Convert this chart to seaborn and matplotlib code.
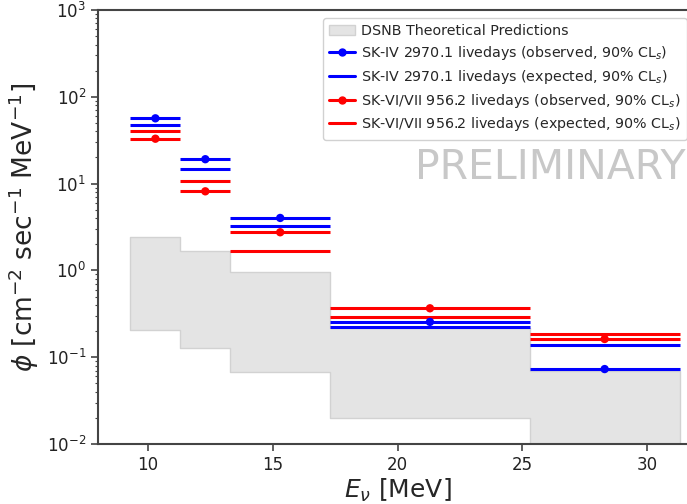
import numpy as np
import pandas as pd
import matplotlib
matplotlib.use("Agg")
import matplotlib.pyplot as plt
from matplotlib.lines import Line2D
from matplotlib.patches import Patch
import seaborn as sns

# Energy bin edges [MeV]
bin_edges = [9.3, 11.3, 13.3, 17.3, 25.3, 31.3]
bin_centers = [10.3, 12.3, 15.3, 21.3, 28.3]

# DSNB theoretical band (per bin)
dsnb_low = [0.206, 0.128, 0.0676, 0.0198, 0.005]
dsnb_high = [2.43, 1.68, 0.96, 0.215, 0.070]

# SK-IV limits
sk4_obs = [56.5, 19.1, 4.02, 0.255, 0.073]
sk4_exp = [47.0, 14.9, 3.25, 0.221, 0.138]

# SK-VI/VII limits
sk67_obs = [32.9, 8.15, 2.75, 0.366, 0.162]
sk67_exp = [40.7, 10.6, 1.69, 0.293, 0.185]

labels = [
    "DSNB Theoretical Predictions",
    "SK-IV 2970.1 livedays (observed, 90% CL$_s$)",
    "SK-IV 2970.1 livedays (expected, 90% CL$_s$)",
    "SK-VI/VII 956.2 livedays (observed, 90% CL$_s$)",
    "SK-VI/VII 956.2 livedays (expected, 90% CL$_s$)",
]

sns.set_style("ticks")
plt.rcParams["font.family"] = ["DejaVu Sans"]
plt.rcParams["mathtext.fontset"] = "dejavusans"

W, H = 687, 504
fig = plt.figure(figsize=(W / 100, H / 100), dpi=100)
ax = fig.add_axes([98 / W, 60 / H, (697 - 98) / W, 434 / H])

# DSNB band as steps
edges = np.array(bin_edges)
xs = np.repeat(edges, 2)[1:-1]
lo = np.repeat(dsnb_low, 2)
hi = np.repeat(dsnb_high, 2)
ax.fill_between(xs, lo, hi, facecolor="#e4e4e4", edgecolor="#d2d2d2", linewidth=1.0, zorder=1)

lefts = edges[:-1]
rights = edges[1:]
lw = 2.2
ax.hlines(sk4_obs, lefts, rights, color="blue", lw=lw, zorder=3)
ax.hlines(sk4_exp, lefts, rights, color="blue", lw=lw, zorder=3)
ax.hlines(sk67_obs, lefts, rights, color="red", lw=lw, zorder=3)
ax.hlines(sk67_exp, lefts, rights, color="red", lw=lw, zorder=3)

df_obs = pd.DataFrame({
    "E": bin_centers * 2,
    "phi": sk4_obs + sk67_obs,
    "set": ["SK-IV"] * 5 + ["SK-VI/VII"] * 5,
})
sns.scatterplot(data=df_obs, x="E", y="phi", hue="set",
                palette={"SK-IV": "blue", "SK-VI/VII": "red"},
                s=36, edgecolor="none", legend=False, ax=ax, zorder=4)

ax.set_yscale("log")
ax.set_ylim(1e-2, 1e3)
ax.set_xlim(8, 32)
ax.set_xticks([10, 15, 20, 25, 30])

for sp in ax.spines.values():
    sp.set_color("#444444")
    sp.set_linewidth(1.5)
ax.tick_params(axis="both", which="major", labelsize=12, length=5, width=1.2, color="#444444", labelcolor="#222222")
ax.tick_params(axis="y", which="minor", length=2.5, width=0.8, color="#444444")

ax.set_xlabel(r"$E_\nu$ [MeV]", fontsize=18, labelpad=2)
ax.set_ylabel(r"$\phi$ [cm$^{-2}$ sec$^{-1}$ MeV$^{-1}$]", fontsize=19, labelpad=4)

handles = [
    Patch(facecolor="#e4e4e4", edgecolor="#d2d2d2"),
    Line2D([], [], color="blue", lw=lw, marker="o", markersize=5),
    Line2D([], [], color="blue", lw=lw),
    Line2D([], [], color="red", lw=lw, marker="o", markersize=5),
    Line2D([], [], color="red", lw=lw),
]
leg = fig.legend(handles, labels, loc="upper left", bbox_to_anchor=(323 / W, 1 - 18 / H),
                 borderaxespad=0.0, fontsize=10.3, frameon=True, fancybox=True, framealpha=0.9,
                 edgecolor="#cccccc", handlelength=1.8, handletextpad=0.4,
                 labelspacing=0.4, borderpad=0.45)

fig.text(415 / W, 1 - 168 / H, "PRELIMINARY", fontsize=29.5, color="#c8c8c8", va="center", ha="left")

fig.savefig("out.png", dpi=100)
